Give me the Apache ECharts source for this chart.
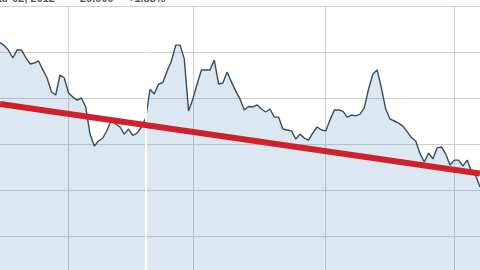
<!DOCTYPE html>
<html>
<head>
<meta charset="utf-8">
<script src="https://cdn.jsdelivr.net/npm/echarts@6/dist/echarts.min.js"></script>
<style>
  html, body { margin: 0; padding: 0; background: #fff; overflow: hidden; }
  /* taller than the window: the bottom of the plot runs off the page */
  #chart { width: 480px; height: 282px; }
</style>
</head>
<body>
<div id="chart"></div>
<script>
// first trading day shown, one point per day after it
const startDate = "2012-01-16";

// closing price per day
const prices = [
  30.41, 30.28, 30.07, 29.74, 30.09, 30.09, 29.76, 29.48, 29.52, 29.61,
  29.22, 28.87, 28.26, 28.13, 29.00, 28.87, 28.22, 28.04, 27.91, 28.00,
  27.61, 26.43, 25.91, 26.13, 26.26, 26.61, 27.04, 26.87, 26.74, 26.43,
  26.65, 26.37, 26.48, 26.74, 27.13, 28.37, 28.17, 28.61, 28.67, 29.17,
  29.61, 30.30, 30.30, 29.70, 27.43, 27.96, 28.61, 29.22, 29.22, 29.22,
  29.65, 28.61, 28.65, 29.13, 28.70, 28.30, 27.96, 27.48, 27.63, 27.61,
  27.70, 27.52, 27.39, 27.52, 27.17, 27.17, 26.65, 26.61, 26.57, 26.22,
  26.43, 26.26, 26.17, 26.48, 26.74, 26.61, 26.57, 27.04, 27.48, 27.48,
  27.43, 27.17, 27.26, 27.22, 27.30, 27.57, 28.39, 29.04, 29.22, 28.43,
  27.52, 27.09, 27.00, 26.91, 26.78, 26.54, 26.28, 26.13, 25.59, 25.22,
  25.61, 25.35, 25.83, 25.87, 25.57, 25.09, 25.30, 25.30, 25.04, 25.30,
  24.83, 24.63, 24.13,
];

// trend line: value at first and last day
const trendStart = 27.74;
const trendEnd = 24.72;

// day of the cursor line
const cursorDay = "2012-02-19";

// header pieces (only their lower edge is in view)
const headerDate = "Mar 02, 2012";
const headerClose = "26.900";
const headerChange = "+1.88%";

// y axis range
const yMin = 20;
const yMax = 32;
const yStep = 2;

// build date labels
const dates = [];
const d0 = new Date(startDate + "T00:00:00");
for (let i = 0; i < prices.length; i++) {
  const d = new Date(d0.getTime() + i * 86400000);
  const mm = String(d.getMonth() + 1).padStart(2, "0");
  const dd = String(d.getDate()).padStart(2, "0");
  dates.push(d.getFullYear() + "-" + mm + "-" + dd);
}

const chart = echarts.init(document.getElementById("chart"), null, { renderer: "canvas" });

const headerFont = {
  fontFamily: "Liberation Sans",
  fontSize: 11,
  fontWeight: "bold",
  fill: "#555",
};

chart.setOption({
  animation: false,
  backgroundColor: "#fff",
  graphic: [
    { type: "text", x: 55, y: -7, style: { ...headerFont, text: headerDate, align: "right" } },
    { type: "text", x: 80, y: -7, style: { ...headerFont, text: headerClose } },
    { type: "text", x: 128, y: -7, style: { ...headerFont, text: headerChange } },
  ],
  grid: {
    left: 0,
    right: 0,
    top: 6,
    bottom: 0,
    containLabel: false,
  },
  xAxis: {
    type: "category",
    data: dates,
    boundaryGap: false,
    axisLine: { show: false },
    axisTick: { show: false },
    axisLabel: { show: false },
    splitLine: {
      show: true,
      // one line at each month start
      interval: (index, value) => value.endsWith("-01"),
      lineStyle: { color: "#cfcfcf", width: 1 },
    },
  },
  yAxis: {
    type: "value",
    min: yMin,
    max: yMax,
    interval: yStep,
    axisLine: { show: false },
    axisTick: { show: false },
    axisLabel: { show: false },
    splitLine: { lineStyle: { color: "#cfcfcf", width: 1 } },
  },
  series: [
    {
      name: "Close",
      type: "line",
      data: prices,
      symbol: "none",
      lineStyle: { color: "#3a4b5b", width: 1.4 },
      areaStyle: { color: "rgba(60, 130, 180, 0.26)" },
      markLine: {
        silent: true,
        symbol: "none",
        label: { show: false },
        animation: false,
        data: [
          { xAxis: cursorDay, lineStyle: { color: "#fff", width: 2, type: "solid" } },
          [
            { coord: [dates[0], trendStart], lineStyle: { color: "#d0202c", width: 6, type: "solid" } },
            { coord: [dates[dates.length - 1], trendEnd] },
          ],
        ],
      },
    },
  ],
});
</script>
</body>
</html>
